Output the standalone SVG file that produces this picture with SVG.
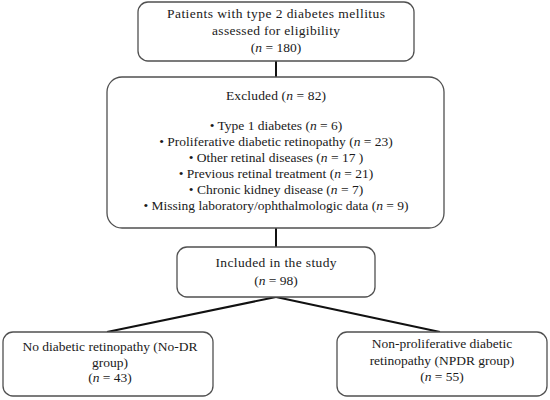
<svg xmlns="http://www.w3.org/2000/svg" width="550" height="400" viewBox="0 0 550 400">
<style>
.box{fill:#fff;stroke:#505050;stroke-width:1.3}
.t{font-family:"Liberation Serif","Times New Roman",serif;font-size:13.5px;fill:#1a1a1a;text-anchor:middle}
.con{stroke:#111;stroke-width:2;fill:none}
</style>
<rect width="550" height="400" fill="#fff"/>
<g id="connectors">
<line class="con" x1="276" y1="61" x2="276" y2="77"/>
<line class="con" x1="276" y1="228" x2="276" y2="247"/>
<line class="con" x1="276" y1="297" x2="107" y2="332"/>
<line class="con" x1="276" y1="297" x2="440" y2="332"/>
</g>
<g id="assessed">
<rect class="box" x="138" y="2" width="276" height="59" rx="10"/>
<text class="t" x="276" y="18" textLength="218">Patients with type 2 diabetes mellitus</text>
<text class="t" x="276" y="35" textLength="128">assessed for eligibility</text>
<text class="t" x="276" y="52">(<tspan font-style="italic">n</tspan> = 180)</text>
</g>
<g id="excluded">
<rect class="box" x="107" y="77" width="337" height="151" rx="15"/>
<text class="t" x="276" y="100" textLength="100">Excluded (<tspan font-style="italic">n</tspan> =  82)</text>
<text class="t" x="276" y="130">• Type 1 diabetes (<tspan font-style="italic">n</tspan> = 6)</text>
<text class="t" x="276" y="146">• Proliferative diabetic retinopathy (<tspan font-style="italic">n</tspan> = 23)</text>
<text class="t" x="276" y="162">• Other retinal diseases (<tspan font-style="italic">n</tspan> = 17 )</text>
<text class="t" x="276" y="178">• Previous retinal treatment (<tspan font-style="italic">n</tspan> = 21)</text>
<text class="t" x="276" y="194">• Chronic kidney disease (<tspan font-style="italic">n</tspan> = 7)</text>
<text class="t" x="276" y="210">• Missing laboratory/ophthalmologic data (<tspan font-style="italic">n</tspan> = 9)</text>
</g>
<g id="included">
<rect class="box" x="177" y="247" width="198" height="50" rx="10"/>
<text class="t" x="276" y="267" textLength="121">Included in the study</text>
<text class="t" x="276" y="285">(<tspan font-style="italic">n</tspan> = 98)</text>
</g>
<g id="nodr">
<rect class="box" x="3" y="332" width="210" height="64" rx="10"/>
<text class="t" x="110" y="351">No diabetic retinopathy (No-DR</text>
<text class="t" x="110" y="367">group)</text>
<text class="t" x="110" y="382">(<tspan font-style="italic">n</tspan> = 43)</text>
</g>
<g id="npdr">
<rect class="box" x="337" y="332" width="210" height="64" rx="10"/>
<text class="t" x="442" y="348">Non-proliferative diabetic</text>
<text class="t" x="442" y="365">retinopathy (NPDR group)</text>
<text class="t" x="442" y="381">(<tspan font-style="italic">n</tspan> = 55)</text>
</g>
</svg>
